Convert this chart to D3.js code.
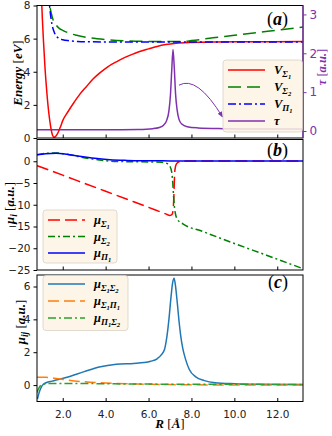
<!doctype html>
<html>
<head>
<meta charset="utf-8">
<script src="https://cdnjs.cloudflare.com/ajax/libs/d3/7.8.5/d3.min.js"></script>
<style>
  body { margin: 0; background: #fff; }
  svg text { font-family: "DejaVu Sans", sans-serif; }
  .m { font-family: "Liberation Serif", serif; font-style: italic; font-weight: bold; }
</style>
</head>
<body>
<div id="chart"></div>
<script>
// ---- panel (a): potential curves [eV] and tau [a.u.]
const rVS1 = [0.95,1.0,1.05,1.1,1.17,1.25,1.33,1.4,1.47,1.53,1.58,1.63,1.7,1.8,1.9,2.0,2.25,2.5,2.8,3.1,3.4,3.7,4.1,4.5,4.9,5.3,5.7,6.0,6.4,6.8,7.3,8.0,9.0,10.5,13.2];
const vS1  = [11.0,8.8,7.2,5.9,4.3,2.9,1.75,1.0,0.45,0.15,0.05,0.06,0.15,0.38,0.7,1.05,1.6,2.1,2.65,3.1,3.55,3.9,4.3,4.6,4.87,5.08,5.27,5.38,5.53,5.64,5.72,5.77,5.8,5.81,5.82];
const rVS2 = [1.33,1.4,1.47,1.56,1.7,1.85,2.0,2.3,2.65,3.1,3.6,4.2,5,6,7,7.6,8,9,10,11,12,13.2];
const vS2  = [9.0,8.0,7.5,7.1,6.8,6.6,6.5,6.33,6.2,6.08,5.99,5.92,5.86,5.83,5.82,5.83,5.88,6.05,6.2,6.36,6.51,6.7];
const rVP1 = [1.3,1.35,1.4,1.45,1.5,1.6,1.7,1.85,2.0,2.3,2.7,3.2,4,6,9,13.2];
const vP1  = [9.6,8.5,7.8,7.25,6.85,6.4,6.15,6.0,5.93,5.87,5.83,5.81,5.8,5.8,5.8,5.8];
const rTau = [0.8,2,4,5.5,6.2,6.5,6.7,6.85,6.95,7.02,7.08,7.14,7.2,7.26,7.33,7.42,7.55,7.8,8.3,9.5,11,13.2];
const tau  = [0.03,0.03,0.03,0.04,0.06,0.09,0.15,0.28,0.52,0.92,1.55,2.1,1.62,0.95,0.55,0.3,0.18,0.11,0.08,0.06,0.05,0.05];
const tauArrow = [[7.42, 1.18], [9.45, 0.36]];

// ---- panel (b): dipole moments mu_i [a.u.]
const rMS1 = [0.8,2,3,4,5,6,6.8,7.0,7.1,7.15,7.18,7.2,7.23,7.3,7.45,7.8,13.2];
const mS1  = [-1.0,-3.2,-5.05,-6.9,-8.75,-10.6,-12.1,-12.45,-12.2,-11.0,-8.0,-5.0,-2.0,-0.6,-0.1,0.05,0.05];
const rMS2 = [0.8,1.2,1.7,2.2,2.7,3.2,3.7,4.2,5,6,6.6,6.85,7.0,7.08,7.13,7.18,7.25,7.35,7.6,8.5,10,11.5,13.2];
const mS2  = [1.5,1.8,1.9,1.6,1.1,0.65,0.3,0.05,-0.1,-0.15,-0.25,-0.5,-1.2,-2.5,-5,-9,-12,-13.4,-14.4,-16.1,-18.9,-21.6,-24.7];
const rMP1 = [0.8,1.2,1.7,2.2,2.7,3.2,3.7,4.2,5,6,7,13.2];
const mP1  = [1.5,1.75,1.85,1.6,1.2,0.85,0.55,0.35,0.2,0.12,0.08,0.05];

// ---- panel (c): transition dipoles mu_ij [a.u.]
const rT12 = [0.82,0.9,1.0,1.1,1.25,1.5,1.75,2.2,3.0,3.7,4.5,5.3,5.8,6.1,6.4,6.6,6.75,6.85,6.95,7.05,7.12,7.19,7.25,7.34,7.42,7.5,7.6,7.73,7.9,8.2,8.6,9.1,10,11,13.2];
const t12  = [-0.85,-0.45,-0.12,0.05,0.16,0.24,0.32,0.48,0.82,1.1,1.27,1.32,1.37,1.45,1.6,1.85,2.2,2.9,4.0,5.4,6.2,6.5,6.1,5.0,3.9,3.0,2.2,1.55,0.95,0.5,0.27,0.14,0.08,0.05,0.03];
const rT1P = [0.8,1.2,1.7,2.2,3.0,3.7,4.5,5.5,7,9,13.2];
const t1P  = [0.48,0.47,0.4,0.31,0.2,0.14,0.1,0.06,0.03,0.01,0.0];
const rTP2 = [0.8,0.9,1.0,1.2,1.5,2.5,4,6,8,13.2];
const tP2  = [-0.45,-0.15,0.0,0.08,0.1,0.1,0.08,0.06,0.05,0.04];

const xTicks = [2, 4, 6, 8, 10, 12];
const purple = "#8031b0";

const W = 332, H = 436, L = 37, R = 303;
const svg = d3.select("#chart").append("svg").attr("width", W).attr("height", H);
const defs = svg.append("defs");
defs.append("marker").attr("id", "arr").attr("viewBox", "0 0 10 10")
  .attr("refX", 9).attr("refY", 5).attr("markerWidth", 6).attr("markerHeight", 6)
  .attr("orient", "auto")
  .append("path").attr("d", "M0,1 L10,5 L0,9 Z").attr("fill", purple);

const x = d3.scaleLinear().domain([0.8, 13.2]).range([L, R]);

const panels = [
  { id: "a", top: 5.5, bot: 138, dom: [0, 8], ticks: [0, 2, 4, 6, 8] },
  { id: "b", top: 139.5, bot: 270, dom: [-25, 5], ticks: [-25, -20, -15, -10, -5, 0] },
  { id: "c", top: 275, bot: 401.5, dom: [-1.0, 6.7], ticks: [0, 2, 4, 6] }
];

function zip(rs, vs) { return rs.map((r, i) => [r, vs[i]]); }

// math-ish label with sub / subsub levels
function mathText(sel, parts, fs) {
  let cur = 0;
  parts.forEach(p => {
    const lvl = p[1] || 0;
    const off = lvl === 0 ? 0 : lvl === 1 ? fs * 0.25 : fs * 0.42;
    const size = lvl === 0 ? fs : lvl === 1 ? fs * 0.72 : fs * 0.52;
    const t = sel.append("tspan").attr("dy", off - cur).attr("font-size", size).text(p[0]);
    if (p[2]) t.style("font-style", "normal").style("font-weight", "normal");
    cur = off;
  });
}

panels.forEach(p => {
  p.y = d3.scaleLinear().domain(p.dom).range([p.bot, p.top]);
  const g = svg.append("g");
  p.g = g;
  defs.append("clipPath").attr("id", "clip" + p.id)
    .append("rect").attr("x", L).attr("y", p.top).attr("width", R - L).attr("height", p.bot - p.top);
  p.plot = g.append("g").attr("clip-path", `url(#clip${p.id})`);

  const ya = g.append("g").attr("transform", `translate(${L},0)`)
    .call(d3.axisLeft(p.y).tickValues(p.ticks).tickSize(3.5).tickPadding(3).tickFormat(d3.format("d")));
  ya.select(".domain").remove();
  ya.selectAll("text").attr("font-size", 10.5).attr("fill", "#222").attr("font-family", "DejaVu Sans");

  const xa = g.append("g").attr("transform", `translate(0,${p.bot})`)
    .call(d3.axisBottom(x).tickValues(xTicks).tickSize(-3.5).tickPadding(9)
      .tickFormat(p.id === "c" ? d3.format(".1f") : () => ""));
  xa.select(".domain").remove();
  xa.selectAll("text").attr("font-size", 10.5).attr("fill", "#222").attr("font-family", "DejaVu Sans");
});

function draw(p, data, color, dash, yScale) {
  const ys = yScale || p.y;
  p.plot.append("path").datum(data)
    .attr("fill", "none").attr("stroke", color).attr("stroke-width", 1.5)
    .attr("stroke-dasharray", dash || null)
    .attr("d", d3.line().x(d => x(d[0])).y(d => ys(d[1])).curve(d3.curveMonotoneX));
}

const [pa, pb, pc] = panels;
const tauY = d3.scaleLinear().domain([-0.18, 3.23]).range([pa.bot, pa.top]);

// panel a curves
draw(pa, zip(rTau, tau), purple, null, tauY);
draw(pa, zip(rVS1, vS1), "#ff0000");
draw(pa, zip(rVS2, vS2), "#008000", "13,6");
draw(pa, zip(rVP1, vP1), "#0000ff", "8,3,2,3");
const a0 = tauArrow[0], a1 = tauArrow[1];
const ax0 = x(a0[0]), ay0 = tauY(a0[1]), ax1 = x(a1[0]), ay1 = tauY(a1[1]);
pa.plot.append("path")
  .attr("d", `M${ax0},${ay0} Q${ax0 + 18},${ay0 - 10} ${ax1},${ay1}`)
  .attr("fill", "none").attr("stroke", purple).attr("stroke-width", 1)
  .attr("marker-end", "url(#arr)");

// panel b curves
draw(pb, zip(rMS1, mS1), "#ff0000", "12,5");
draw(pb, zip(rMS2, mS2), "#008000", "7,3,2,3");
draw(pb, zip(rMP1, mP1), "#0000ff");

// panel c curves
draw(pc, zip(rT12, t12), "#1f77b4");
draw(pc, zip(rT1P, t1P), "#ff7f0e", "11,5");
draw(pc, zip(rTP2, tP2), "#2ca02c", "8,3,2,3");

// tau right axis
const ra = svg.append("g").attr("transform", `translate(${R},0)`)
  .call(d3.axisRight(tauY).tickValues([0, 1, 2, 3]).tickSize(3.5).tickPadding(3).tickFormat(d3.format("d")));
ra.select(".domain").remove();
ra.selectAll("line").attr("stroke", purple);
ra.selectAll("text").attr("font-size", 12).attr("fill", purple).attr("font-family", "Liberation Serif");

// frames
panels.forEach(p => {
  p.g.append("rect").attr("x", L).attr("y", p.top).attr("width", R - L).attr("height", p.bot - p.top)
    .attr("fill", "none").attr("stroke", "#000").attr("stroke-width", 1);
});
svg.append("line").attr("x1", R).attr("x2", R).attr("y1", pa.top).attr("y2", pa.bot)
  .attr("stroke", purple).attr("stroke-width", 1.2);

// legends
function legend(p, lx, ly, w, h, rows, rowY) {
  const g = svg.append("g");
  g.append("rect").attr("x", lx).attr("y", ly).attr("width", w).attr("height", h)
    .attr("rx", 3).attr("fill", "#fdf3e3").attr("fill-opacity", 0.85)
    .attr("stroke", "#d8d2c6").attr("stroke-width", 0.8);
  rows.forEach((r, i) => {
    const yy = rowY[i];
    g.append("line").attr("x1", lx + 5).attr("x2", lx + 42).attr("y1", yy).attr("y2", yy)
      .attr("stroke", r.color).attr("stroke-width", 1.5).attr("stroke-dasharray", r.dash || null);
    const t = g.append("text").attr("class", "m").attr("x", lx + 51).attr("y", yy + 4);
    mathText(t, r.label, 12.5);
  });
}
legend(pa, 223, 60, 79.5, 72, [
  { color: "#ff0000", label: [["V"], ["Σ", 1], ["1", 2]] },
  { color: "#008000", dash: "13,6", label: [["V"], ["Σ", 1], ["2", 2]] },
  { color: "#0000ff", dash: "8,3,2,3", label: [["V"], ["Π", 1], ["1", 2]] },
  { color: purple, label: [["τ"]] }
], [70, 87, 104, 121]);
legend(pb, 43, 210, 74, 53, [
  { color: "#ff0000", dash: "12,5", label: [["μ"], ["Σ", 1], ["1", 2]] },
  { color: "#008000", dash: "7,3,2,3", label: [["μ"], ["Σ", 1], ["2", 2]] },
  { color: "#0000ff", label: [["μ"], ["Π", 1], ["1", 2]] }
], [220, 236.5, 253]);
legend(pc, 43, 275.5, 85, 55, [
  { color: "#1f77b4", label: [["μ"], ["Σ", 1], ["1", 2], ["Σ", 1], ["2", 2]] },
  { color: "#ff7f0e", dash: "11,5", label: [["μ"], ["Σ", 1], ["1", 2], ["Π", 1], ["1", 2]] },
  { color: "#2ca02c", dash: "8,3,2,3", label: [["μ"], ["Π", 1], ["1", 2], ["Σ", 1], ["2", 2]] }
], [284, 301, 318]);

// panel letters
[["a", 19], ["b", 150], ["c", 282]].forEach(([k, cy]) => {
  const t = svg.append("text").attr("class", "m").attr("x", 288).attr("y", cy + 6)
    .attr("text-anchor", "end").attr("font-size", 18);
  t.append("tspan").style("font-style", "normal").style("font-weight", "normal").text("(");
  t.append("tspan").text(k);
  t.append("tspan").style("font-style", "normal").style("font-weight", "normal").text(")");
});

// axis titles
const yl1 = svg.append("text").attr("class", "m").attr("transform", "translate(22,73) rotate(-90)")
  .attr("text-anchor", "middle").attr("font-size", 13);
mathText(yl1, [["Energy "], ["[", 0, 1], ["eV"], ["]", 0, 1]], 13);
const yl2 = svg.append("text").attr("class", "m").attr("transform", "translate(14,203) rotate(-90)")
  .attr("text-anchor", "middle").attr("font-size", 13);
mathText(yl2, [["μ"], ["i", 1], [" [", 0, 1], ["a.u."], ["]", 0, 1]], 13);
const yl3 = svg.append("text").attr("class", "m").attr("transform", "translate(25,322) rotate(-90)")
  .attr("text-anchor", "middle").attr("font-size", 13);
mathText(yl3, [["μ"], ["ij", 1], [" [", 0, 1], ["a.u."], ["]", 0, 1]], 13);
const yr = svg.append("text").attr("class", "m").attr("transform", "translate(326,67) rotate(-90)")
  .attr("text-anchor", "middle").attr("font-size", 12.5).attr("fill", purple);
mathText(yr, [["τ "], ["[", 0, 1], ["a.u."], ["]", 0, 1]], 12.5);
const xl = svg.append("text").attr("class", "m").attr("x", 170).attr("y", 428)
  .attr("text-anchor", "middle").attr("font-size", 13);
mathText(xl, [["R "], ["[", 0, 1], ["Å"], ["]", 0, 1]], 13);
</script>
</body>
</html>
